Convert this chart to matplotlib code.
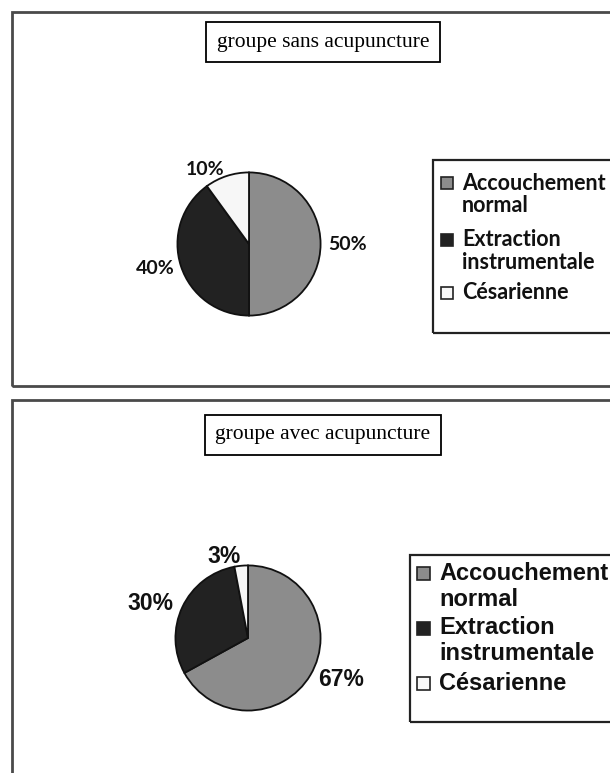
import matplotlib
matplotlib.use("Agg")
import matplotlib.pyplot as plt
import matplotlib.patches as mpatches

W, H = 610, 773

categories = ["Accouchement\nnormal", "Extraction\ninstrumentale", "Césarienne"]
sans_values = [50, 40, 10]
avec_values = [67, 30, 3]
titles = ["groupe sans acupuncture", "groupe avec acupuncture"]
colors = ["#8c8c8c", "#222222", "#f7f7f7"]


def fx(px):
    return px / W


def fy(py):
    return 1 - py / H


def box(fig, x0, y0, x1, y1, lw=2.0, ec="#4a4a4a", fc="none"):
    r = mpatches.Rectangle((fx(x0), fy(y1)), fx(x1) - fx(x0), fy(y0) - fy(y1),
                           transform=fig.transFigure, facecolor=fc,
                           edgecolor=ec, linewidth=lw)
    fig.patches.append(r)


fig = plt.figure(figsize=(W / 100, H / 100), dpi=100)
fig.patch.set_facecolor("white")

panels = [
    dict(vals=sans_values, top=12, bot=386, ty=42, cx=249, cy=244, r=73,
         leg=(433, 160, 640, 333), font="Lato", lsize=15.5, psize=14,
         ldist=1.1, title=titles[0],
         hx=441, hs=12, tx=462, ly=[183, 240, 293], lstep=22),
    dict(vals=avec_values, top=400, bot=790, ty=435, cx=248, cy=638, r=74,
         leg=(410, 555, 640, 722), font="Liberation Sans", lsize=17, psize=16.5,
         ldist=1.13, title=titles[1],
         hx=417, hs=13, tx=439, ly=[573, 628, 683], lstep=26),
]

for p in panels:
    box(fig, 12, p["top"], 640, p["bot"])

    fig.text(fx(323), fy(p["ty"]), p["title"], ha="center", va="center",
             family="Liberation Serif", fontsize=15.5,
             bbox=dict(boxstyle="square,pad=0.5", fc="white", ec="black", lw=1.3))

    d = 2 * p["r"]
    ax = fig.add_axes([fx(p["cx"] - p["r"]), fy(p["cy"] + p["r"]), d / W, d / H])
    labels = [f"{v}%" for v in p["vals"]]
    wedges, texts = ax.pie(p["vals"], colors=colors, startangle=90, counterclock=False,
                           labels=labels, labeldistance=p["ldist"],
                           wedgeprops=dict(edgecolor="#111111", linewidth=1.3),
                           textprops=dict(fontsize=p["psize"], fontweight="bold",
                                          family=p["font"], color="#111111"))
    ax.set_xlim(-1.02, 1.02)
    ax.set_ylim(-1.02, 1.02)
    ax.set_aspect("equal")
    ax.axis("off")

    # legend drawn by hand: frame, square handles, two-line labels
    lx0, ly0, lx1, ly1 = p["leg"]
    box(fig, lx0, ly0, lx1, ly1, lw=1.6, ec="#222222")
    for w, cat, y in zip(wedges, categories, p["ly"]):
        hs = p["hs"]
        box(fig, p["hx"], y - hs / 2, p["hx"] + hs, y + hs / 2, lw=1.2,
            ec="#222222", fc=w.get_facecolor())
        for i, line in enumerate(cat.split("\n")):
            fig.text(fx(p["tx"]), fy(y + i * p["lstep"]), line, ha="left", va="center",
                     family=p["font"], fontweight="bold", fontsize=p["lsize"],
                     color="#111111")

fig.savefig("out.png", dpi=100)
